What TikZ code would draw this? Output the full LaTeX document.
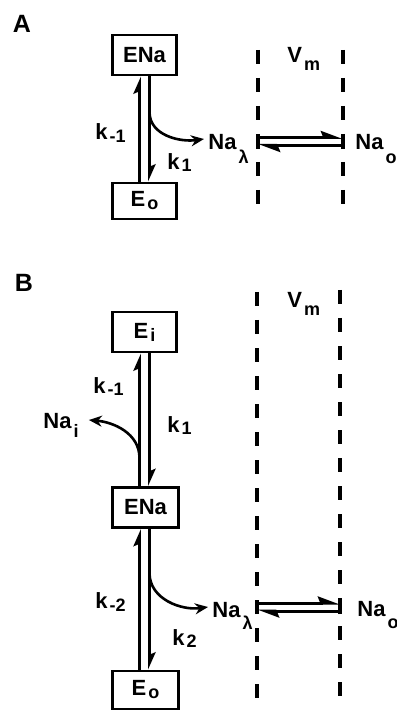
\documentclass[tikz,border=0pt]{standalone}
\usepackage{fontspec}
\setmainfont{Liberation Sans}
\usetikzlibrary{arrows.meta}

% lowered subscript with adjustable drop
\newcommand{\lowsub}[2][2pt]{\kern1pt\raisebox{-#1}{\fontsize{9}{9}\selectfont #2}}

\tikzset{
  statebox/.style={draw, line width=1.3pt, minimum width=32pt, minimum height=20pt,
    inner sep=0pt, font=\bfseries\fontsize{11}{12}\selectfont},
  txt/.style={anchor=base west, inner sep=0pt, font=\bfseries\fontsize{11}{12}\selectfont},
  panel/.style={inner sep=0pt, font=\bfseries\fontsize{12.5}{14}\selectfont},
  harp/.style={line width=1.5pt, -{Stealth[harpoon, length=7pt, width=6pt, inset=1.2pt]}},
  harpwide/.style={line width=1.5pt, -{Stealth[harpoon, length=9pt, width=6.5pt, inset=1.2pt]}},
  curv/.style={line width=1.3pt, -{Stealth[length=6.5pt, width=5.5pt]}},
  membrane/.style={line width=1.8pt, dash pattern=on 7pt off 7pt},
  endbar/.style={line width=1.6pt},
}

\begin{document}
\begin{tikzpicture}[x=0.5pt, y=-0.5pt]
\useasboundingbox (0,0) rectangle (396,710);

% ---- panel A ----
\node[panel] (labA) at (22,24) {A};
\node[statebox] (ENaA) at (144.5,55) {ENa};
\node[statebox, minimum height=18pt] (E0A) at (144.5,201) {E\lowsub[1.5pt]{o}};
\draw[harp] ([xshift=-2.5pt]E0A.north) -- ([xshift=-2.5pt]ENaA.south);
\draw[harp] ([xshift=2.5pt]ENaA.south) -- ([xshift=2.5pt]E0A.north);
\node[txt] (kmA) at (95,140) {k\lowsub[1.5pt]{-1}};
\node[txt] (kpA) at (167,170) {k\lowsub[1pt]{1}};

\node[txt] (NaLA) at (208,150) {Na\lowsub[7pt]{λ}};
\coordinate (brA) at (149.5,112);
\draw[curv] (brA) to[out=-90, in=188] ([xshift=-2pt, yshift=5.5pt]NaLA.base west);

\draw[membrane] (258,50) -- (258,210);
\draw[membrane] (343,50) -- (343,210);
\node[txt] (VmA) at (287,63) {V\lowsub[4pt]{m}};
\coordinate (inA) at (258,141.5);
\coordinate (outA) at (343,141.5);
\draw[harpwide] ([yshift=2pt]inA) -- ([yshift=2pt]outA);
\draw[harpwide] ([yshift=-2pt]outA) -- ([yshift=-2pt]inA);
\draw[endbar] ([yshift=-3.6pt]inA) -- ([yshift=3.6pt]inA);
\draw[endbar] ([yshift=-3.6pt]outA) -- ([yshift=3.6pt]outA);
\node[txt] (NaOA) at (355,150) {Na\lowsub[7pt]{o}};

% ---- panel B ----
\node[panel] (labB) at (24,283) {B};
\node[statebox] (EiB) at (144.5,332) {E\lowsub[1.5pt]{i}};
\node[statebox, minimum width=33pt] (ENaB) at (145.5,507.5) {ENa};
\node[statebox, minimum width=33pt, minimum height=19pt] (E0B) at (145.5,690) {E\lowsub[1.5pt]{o}};
\draw[harp] ([xshift=-3pt]ENaB.north) -- ([xshift=-2.5pt]EiB.south);
\draw[harp] ([xshift=2.5pt]EiB.south) -- ([xshift=2pt]ENaB.north);
\draw[harp] ([xshift=-3pt]E0B.north) -- ([xshift=-3pt]ENaB.south);
\draw[harp] ([xshift=2pt]ENaB.south) -- ([xshift=2pt]E0B.north);
\node[txt] (kmB) at (93,393) {k\lowsub[1.5pt]{-1}};
\node[txt] (kpB) at (167,432) {k\lowsub[1pt]{1}};
\node[txt] (km2B) at (95,608) {k\lowsub[1.5pt]{-2}};
\node[txt] (kp2B) at (172,645) {k\lowsub[1pt]{2}};

\node[txt] (NaIB) at (43,428) {Na\lowsub[4.5pt]{i}};
\coordinate (blB) at (139.5,458);
\draw[curv] (blB) to[out=90, in=-5] ([xshift=5pt, yshift=4pt]NaIB.base east);

\node[txt] (NaLB) at (212,617) {Na\lowsub[6pt]{λ}};
\coordinate (brB) at (149.5,573);
\draw[curv] (brB) to[out=-90, in=188] ([xshift=-2pt, yshift=5pt]NaLB.base west);

\draw[membrane] (257,292) -- (257,710);
\draw[membrane] (340,290) -- (340,710);
\node[txt] (VmB) at (287,308) {V\lowsub[4pt]{m}};
\coordinate (inB) at (257,607);
\coordinate (outB) at (340,607);
\draw[harpwide] ([yshift=2pt]inB) -- ([yshift=2pt]outB);
\draw[harpwide] ([yshift=-2pt]outB) -- ([yshift=-2pt]inB);
\draw[endbar] ([yshift=-3.6pt]inB) -- ([yshift=3.6pt]inB);
\draw[endbar] ([yshift=-3.6pt]outB) -- ([yshift=3.6pt]outB);
\node[txt] (NaOB) at (357,616) {Na\lowsub[6pt]{o}};
\end{tikzpicture}
\end{document}
